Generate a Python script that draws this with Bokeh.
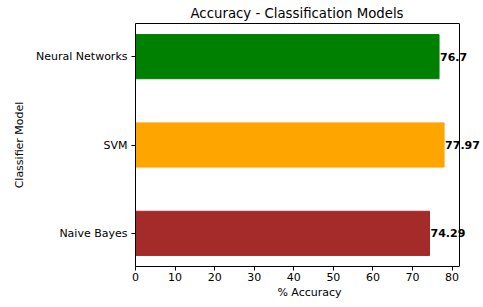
from bokeh.plotting import figure
from bokeh.models import Range1d, FixedTicker, ColumnDataSource, Label, LinearAxis, Span
from bokeh.embed import file_html
from bokeh.resources import INLINE

models = ["Naive Bayes", "SVM", "Neural Networks"]
accuracy = [74.29, 77.97, 76.7]
bar_colors = ["#a52a2a", "#ffa500", "#008000"]
value_labels = ["74.29", "77.97", "76.7"]
x_ticks = [0, 10, 20, 30, 40, 50, 60, 70, 80]

pos = list(range(len(models)))
src = ColumnDataSource(dict(y=pos, right=accuracy, color=bar_colors, label=value_labels))

FONT = "DejaVu Sans"

AX_W = 324           # width of the matplotlib-style axes box
FRAME_W = 348        # frame extends right so value labels are not clipped
x_max = max(accuracy) * 1.05

p = figure(output_backend="svg", toolbar_location=None,
           frame_width=FRAME_W, frame_height=243,
           x_range=Range1d(0, x_max * FRAME_W / AX_W), y_range=Range1d(-0.375, 2.375),
           min_border_left=135, min_border_right=0, min_border_bottom=39, min_border_top=0,
           title="Accuracy - Classification Models")
p.hbar(y="y", right="right", left=0, height=0.5, color="color", source=src)

for yv, xv, txt in zip(pos, accuracy, value_labels):
    p.add_layout(Label(x=xv, y=yv, text=txt, x_offset=1,
                       text_align="left", text_baseline="middle",
                       text_font=FONT, text_font_size="11px", text_font_style="bold",
                       text_color="black"))

# box: right spine and top spine
p.add_layout(Span(location=x_max, dimension="height", line_color="black", line_width=1))
top = LinearAxis(ticker=FixedTicker(ticks=[]), bounds=(0, x_max),
                 axis_line_color="black", major_tick_line_color=None,
                 minor_tick_line_color=None, major_tick_out=0, major_tick_in=0,
                 major_label_standoff=0, axis_label_standoff=0)
p.add_layout(top, "above")

p.title.align = "left"
p.title.offset = 55
p.title.text_font = FONT
p.title.text_font_size = "13.3px"
p.title.text_font_style = "normal"
p.title.text_color = "black"
p.title.standoff = 6

p.xgrid.visible = False
p.ygrid.visible = False
p.outline_line_color = None
p.background_fill_color = "white"
p.border_fill_color = "white"

p.below[0].ticker = FixedTicker(ticks=x_ticks)
p.yaxis.ticker = FixedTicker(ticks=pos)
p.yaxis.major_label_overrides = {i: m for i, m in enumerate(models)}
p.below[0].axis_label = "% Accuracy"
p.below[0].bounds = (0, x_max)
p.yaxis.axis_label = "Classifier Model"

for ax in (p.below[0], p.yaxis[0]):
    ax.minor_tick_line_color = None
    ax.major_tick_in = 0
    ax.major_tick_out = 4
    ax.major_tick_line_color = "black"
    ax.axis_line_color = "black"
    ax.major_label_text_font = FONT
    ax.major_label_text_font_size = "11px"
    ax.major_label_text_color = "black"
    ax.axis_label_text_font = FONT
    ax.axis_label_text_font_size = "11px"
    ax.axis_label_text_font_style = "normal"
    ax.axis_label_text_color = "black"

p.below[0].major_label_standoff = 2
p.below[0].axis_label_standoff = 2
p.yaxis.major_label_standoff = 4
p.yaxis.axis_label_standoff = 7

open("out.html", "w").write(file_html(p, INLINE))
